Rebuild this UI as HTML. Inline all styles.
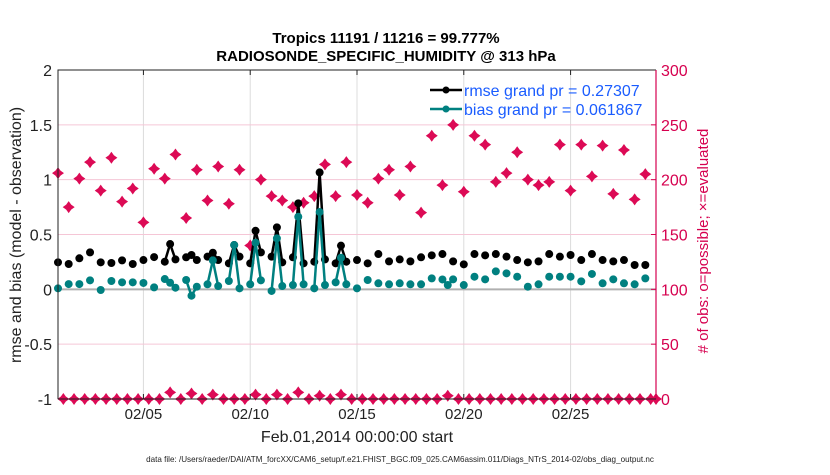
<!DOCTYPE html>
<html><head><meta charset="utf-8">
<style>
body{margin:0;background:#fff;width:830px;height:470px;overflow:hidden}
svg{font-family:"Liberation Sans",Arial,sans-serif}
</style></head>
<body>
<svg id="chart" width="830" height="470" viewBox="0 0 830 470" xmlns="http://www.w3.org/2000/svg">
<rect width="830" height="470" fill="#fff"/>
<text x="386" y="43" font-size="15" font-weight="bold" text-anchor="middle" fill="#000">Tropics 11191 / 11216 = 99.777%</text>
<text x="386" y="61" font-size="15" font-weight="bold" text-anchor="middle" fill="#000">RADIOSONDE_SPECIFIC_HUMIDITY @ 313 hPa</text>
<g id="grid"></g>
<g id="marks"></g>
<g id="axes"></g>
<text transform="translate(21,235) rotate(-90)" font-size="16" text-anchor="middle" fill="#222">rmse and bias (model - observation)</text>
<text transform="translate(708,241) rotate(-90)" font-size="15" text-anchor="middle" fill="#d6004f"># of obs: o=possible; ×=evaluated</text>
<text x="357" y="442" font-size="16" text-anchor="middle" fill="#222">Feb.01,2014 00:00:00 start</text>
<text x="400" y="462" font-size="8.1" text-anchor="middle" fill="#222">data file: /Users/raeder/DAI/ATM_forcXX/CAM6_setup/f.e21.FHIST_BGC.f09_025.CAM6assim.011/Diags_NTrS_2014-02/obs_diag_output.nc</text>
<g>
<line x1="430" y1="90" x2="462" y2="90" stroke="#000" stroke-width="2.5"/>
<circle cx="446" cy="90" r="3.5" fill="#000"/>
<text x="464" y="96" font-size="16" fill="#1a5cff">rmse grand pr = 0.27307</text>
<line x1="430" y1="109" x2="462" y2="109" stroke="#008080" stroke-width="2.5"/>
<circle cx="446" cy="109" r="3.5" fill="#008080"/>
<text x="464" y="115" font-size="16" fill="#1a5cff">bias grand pr = 0.061867</text>
</g>
</svg>
<script>
// data (times in quarter-days from Feb 01 00:00)
const rmseQ=[0,2,4,6,8,10,12,14,16,18,20,21,22,24,25,26,28,29,30,32,33,34,36,37,38,40,41,42,44,45,46,48,49,50,52,53,54,56,58,60,62,64,66,68,70,72,74,76,78,80,82,84,86,88,90,92,94,96,98,100,102,104,106,108,110];
const rmseV=[0.246,0.231,0.283,0.337,0.246,0.240,0.264,0.231,0.267,0.294,0.252,0.413,0.273,0.292,0.313,0.267,0.298,0.334,0.267,0.237,0.404,0.298,0.237,0.534,0.337,0.298,0.565,0.246,0.292,0.784,0.237,0.252,1.066,0.273,0.237,0.398,0.252,0.267,0.237,0.322,0.255,0.273,0.255,0.292,0.31,0.322,0.255,0.228,0.322,0.31,0.322,0.298,0.267,0.246,0.255,0.322,0.298,0.313,0.267,0.322,0.267,0.255,0.267,0.222,0.222];
const biasQ=[0,2,4,6,8,10,12,14,16,18,20,21,22,24,25,26,28,29,30,32,33,34,36,37,38,40,41,42,44,45,46,48,49,50,52,53,54,56,58,60,62,64,66,68,70,72,73,74,76,78,80,82,84,86,88,90,92,94,96,98,100,102,104,106,108,110];
const biasV=[0.009,0.048,0.048,0.082,-0.006,0.076,0.064,0.064,0.058,0.018,0.094,0.06,0.015,0.085,-0.058,0.024,0.046,0.264,0.03,0.076,0.404,0.009,0.046,0.425,0.082,-0.015,0.465,0.03,0.039,0.662,0.046,0.009,0.705,0.039,0.064,0.288,0.046,0.009,0.085,0.055,0.046,0.055,0.046,0.046,0.1,0.09,0.039,0.091,0.039,0.115,0.091,0.164,0.146,0.115,0.024,0.046,0.115,0.115,0.115,0.073,0.14,0.055,0.091,0.055,0.046,0.1];
const obsV=[206,175,201,216,190,220,180,192,161,210,201,223,165,209,181,212,178,209,140,200,185,181,175,179,185,214,185,216,186,179,201,209,186,212,170,240,195,250,189,240,232,198,206,225,200,195,198,232,190,232,203,231,187,227,182,205];
const evalQ=[21,25,29,37,41,45,49,53,73];
const evalV=[6,5,4,4,4,6,3,4,3];
const xTickDays=[4,9,14,19,24];
const xTickLabels=["02/05","02/10","02/15","02/20","02/25"];
const yTicks=[-1,-0.5,0,0.5,1,1.5,2];
const yTickLabels=["-1","-0.5","0","0.5","1","1.5","2"];
const y2Ticks=[0,50,100,150,200,250,300];

const L=58,R=656,T=70,B=399;
const X=d=>L+(d/28)*(R-L);
const Y=v=>B-(v+1)/3*(B-T);
const Y2=n=>B-n/300*(B-T);
const NS="http://www.w3.org/2000/svg";
function mk(tag,attrs,parent){const e=document.createElementNS(NS,tag);for(const k in attrs)e.setAttribute(k,attrs[k]);parent.appendChild(e);return e;}
const grid=document.getElementById('grid'),marks=document.getElementById('marks'),axes=document.getElementById('axes');

xTickDays.forEach((d,i)=>{
  const g=mk('line',{x1:X(d),x2:X(d),y1:T,y2:B,stroke:'#dcdcdc','stroke-width':1},grid);
  
  
  const t=mk('text',{x:X(d),y:419,'font-size':15,'text-anchor':'middle',fill:'#222'},axes);
  t.textContent=xTickLabels[i];
  
  
  mk('line',{x1:X(d),x2:X(d),y1:T,y2:T+5,stroke:'#222'},axes);
  mk('line',{x1:X(d),x2:X(d),y1:B,y2:B-5,stroke:'#222'},axes);
});
yTicks.forEach((v,i)=>{
  if(v!==0&&v!==2&&v!==-1){const g=mk('line',{x1:L,x2:R,y1:Y(v),y2:Y(v),stroke:'#f5c6d6','stroke-width':1},grid);
  
  }
  const t=mk('text',{x:52,y:Y(v)+6,'font-size':16,'text-anchor':'end',fill:'#222'},axes);
  t.textContent=yTickLabels[i];
  
  
});
y2Ticks.forEach(n=>{
  const t=mk('text',{x:661,y:Y2(n)+6,'font-size':16,fill:'#d6004f'},axes);
  t.textContent=String(n);
  
  
  mk('line',{x1:R,x2:R-5,y1:Y2(n),y2:Y2(n),stroke:'#d6004f'},axes);
});
const z=mk('line',{x1:L,x2:R,y1:Y(0),y2:Y(0),stroke:'#b0b0b0','stroke-width':2},grid);


mk('path',{d:`M${L},${B}V${T}H${R}`,fill:'none',stroke:'#222','stroke-width':1},axes);
mk('line',{x1:R,x2:R,y1:T,y2:B,stroke:'#d6004f','stroke-width':1.2},axes);
mk('line',{x1:L,x2:R,y1:B,y2:B,stroke:'#222','stroke-width':1},axes);

function star(x,y,parent,name){
  const g=mk('path',{d:`M${x},${y-6}L${x+2.5},${y-2.5}L${x+6},${y}L${x+2.5},${y+2.5}L${x},${y+6}L${x-2.5},${y+2.5}L${x-6},${y}L${x-2.5},${y-2.5}Z`,fill:'#dc0a55'},parent);
  
  
}
obsV.forEach((n,i)=>star(X(i*0.5),Y2(n),marks,'obs-possible-marker'));
for(let q=1;q<=111;q+=2){
  const k=evalQ.indexOf(q);const n=k>=0?evalV[k]:0;
  star(X(q/4),Y2(n),marks,'obs-evaluated-marker');
}
star(X(28),Y2(0),marks,'obs-evaluated-marker');

function seriesSeg(Q,V,color,name){
  for(let i=1;i<Q.length;i++){
    if(Q[i]-Q[i-1]===1){
      const s=mk('line',{x1:X(Q[i-1]/4),y1:Y(V[i-1]),x2:X(Q[i]/4),y2:Y(V[i]),stroke:color,'stroke-width':2.5},marks);
      
      
    }
  }
  Q.forEach((q,i)=>{
    const c=mk('circle',{cx:X(q/4),cy:Y(V[i]),r:4,fill:color},marks);
    
    
  });
}
seriesSeg(rmseQ,rmseV,'#000','rmse');
seriesSeg(biasQ,biasV,'#008080','bias');
</script>
</body></html>
